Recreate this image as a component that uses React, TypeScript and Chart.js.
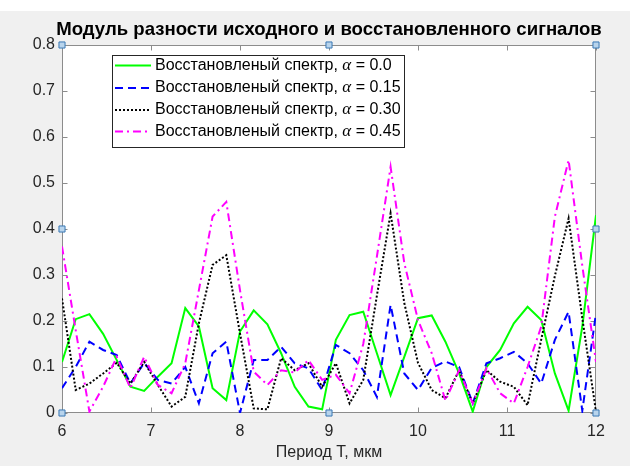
import { useEffect, useRef } from "react";
import { Chart, registerables } from "chart.js";

Chart.register(...registerables);

const periods = [
  6.0, 6.154, 6.308, 6.462, 6.615, 6.769, 6.923, 7.077, 7.231, 7.385,
  7.538, 7.692, 7.846, 8.0, 8.154, 8.308, 8.462, 8.615, 8.769, 8.923,
  9.077, 9.231, 9.385, 9.538, 9.692, 9.846, 10.0, 10.154, 10.308, 10.462,
  10.615, 10.769, 10.923, 11.077, 11.231, 11.385, 11.538, 11.692, 11.846, 12.0,
];

const alphas = ["0.0", "0.15", "0.30", "0.45"];
const seriesLabel = "Восстановленый спектр, α = ";

const diffAlpha000 = [
  0.111, 0.204, 0.215, 0.172, 0.115, 0.057, 0.048, 0.079, 0.108, 0.228,
  0.188, 0.054, 0.028, 0.177, 0.223, 0.193, 0.13, 0.057, 0.014, 0.008,
  0.159, 0.213, 0.22, 0.13, 0.039, 0.122, 0.206, 0.212, 0.155, 0.086,
  0.003, 0.1, 0.137, 0.195, 0.231, 0.202, 0.086, 0.005, 0.188, 0.43,
];
const diffAlpha015 = [
  0.054, 0.1, 0.155, 0.137, 0.126, 0.064, 0.109, 0.072, 0.064, 0.1,
  0.021, 0.13, 0.155, 0.0, 0.115, 0.115, 0.144, 0.108, 0.097, 0.05,
  0.148, 0.13, 0.093, 0.035, 0.235, 0.086, 0.05, 0.098, 0.112, 0.1,
  0.021, 0.108, 0.119, 0.133, 0.108, 0.064, 0.159, 0.22, 0.005, 0.217,
];
const diffAlpha030 = [
  0.249, 0.05, 0.064, 0.086, 0.109, 0.064, 0.111, 0.061, 0.014, 0.035,
  0.195, 0.322, 0.343, 0.173, 0.01, 0.008, 0.119, 0.093, 0.108, 0.057,
  0.108, 0.021, 0.072, 0.255, 0.434, 0.239, 0.109, 0.05, 0.032, 0.093,
  0.021, 0.093, 0.068, 0.057, 0.017, 0.16, 0.298, 0.423, 0.206, 0.003,
];
const diffAlpha045 = [
  0.362, 0.18, 0.003, 0.057, 0.122, 0.054, 0.122, 0.061, 0.043, 0.108,
  0.267, 0.427, 0.459, 0.267, 0.09, 0.061, 0.093, 0.088, 0.115, 0.072,
  0.083, 0.043, 0.15, 0.34, 0.535, 0.326, 0.202, 0.13, 0.027, 0.093,
  0.021, 0.097, 0.043, 0.021, 0.1, 0.188, 0.427, 0.55, 0.32, 0.111,
];

const xTicks = [6, 7, 8, 9, 10, 11, 12];
const yTicks = [0, 0.1, 0.2, 0.3, 0.4, 0.5, 0.6, 0.7, 0.8];

// axes selection handles (figure editor)
const handleX = [6, 9, 12, 6, 12, 6, 9, 12];
const handleY = [0.8, 0.8, 0.8, 0.4, 0.4, 0, 0, 0];

const titleText = "Модуль разности исходного и восстановленного сигналов";
const xTitle = "Период Т, мкм";

const FONT = "'Liberation Sans', Arial, Helvetica, sans-serif";
const AXIS_COLOR = "#8c8c8c";
const TEXT_COLOR = "#262626";

const lineStyles = [
  { color: "#00ff00", dash: [] as number[] },
  { color: "#0000ff", dash: [8, 5] },
  { color: "#000000", dash: [2, 2] },
  { color: "#ff00ff", dash: [8, 4, 2, 4] },
];

const matlabAxes = {
  id: "matlabAxes",
  beforeDraw(chart: any) {
    const { ctx, chartArea: a, width, height } = chart;
    ctx.save();
    ctx.fillStyle = "#f0f0f0";
    ctx.fillRect(0, 0, width, height);
    ctx.fillStyle = "#ffffff";
    ctx.fillRect(a.left, a.top, a.right - a.left, a.bottom - a.top);
    ctx.restore();
  },
  beforeDatasetsDraw(chart: any) {
    const { ctx, chartArea: a, scales } = chart;
    ctx.save();
    ctx.strokeStyle = AXIS_COLOR;
    ctx.lineWidth = 1;
    const l = Math.round(a.left) + 0.5;
    const r = Math.round(a.right) - 0.5;
    const t = Math.round(a.top) + 0.5;
    const b = Math.round(a.bottom) - 0.5;
    ctx.strokeRect(l, t, r - l, b - t);
    ctx.beginPath();
    for (const v of xTicks) {
      const x = Math.round(scales.x.getPixelForValue(v)) + 0.5;
      ctx.moveTo(x, b);
      ctx.lineTo(x, b - 5);
      ctx.moveTo(x, t);
      ctx.lineTo(x, t + 5);
    }
    for (const v of yTicks) {
      const y = Math.round(scales.y.getPixelForValue(v)) + 0.5;
      ctx.moveTo(l, y);
      ctx.lineTo(l + 5, y);
      ctx.moveTo(r, y);
      ctx.lineTo(r - 5, y);
    }
    ctx.stroke();
    ctx.restore();
  },
  afterDraw(chart: any) {
    const { ctx, chartArea: a } = chart;
    ctx.save();
    // title (drawn without width squeezing)
    ctx.fillStyle = "#000000";
    ctx.font = `bold 18.6px ${FONT}`;
    ctx.textAlign = "center";
    ctx.textBaseline = "middle";
    ctx.fillText(titleText, (a.left + a.right) / 2, 18.5);

    // legend
    const bx = 112.5;
    const by = 44.5;
    const bw = 292;
    const bh = 92;
    ctx.fillStyle = "#ffffff";
    ctx.fillRect(bx, by, bw, bh);
    ctx.strokeStyle = "#262626";
    ctx.lineWidth = 1;
    ctx.strokeRect(bx, by, bw, bh);
    const rows = [54.5, 77, 99, 120.5];
    alphas.forEach((al, i) => {
      const y = rows[i];
      const st = lineStyles[i];
      ctx.strokeStyle = st.color;
      ctx.lineWidth = 2;
      ctx.setLineDash(st.dash);
      ctx.beginPath();
      ctx.moveTo(115, y);
      ctx.lineTo(151, y);
      ctx.stroke();
      ctx.setLineDash([]);
      ctx.fillStyle = "#000000";
      ctx.textBaseline = "middle";
      ctx.textAlign = "left";
      const parts = seriesLabel.split("α");
      let x = 155;
      ctx.font = `16px ${FONT}`;
      ctx.fillText(parts[0], x, y);
      x += ctx.measureText(parts[0]).width;
      ctx.font = `italic 17px 'Liberation Serif', 'DejaVu Serif', serif`;
      ctx.fillText("α", x, y);
      x += ctx.measureText("α").width;
      ctx.font = `16px ${FONT}`;
      ctx.fillText(parts[1] + al, x, y);
    });
    ctx.restore();
  },
};

export default function App() {
  const canvasRef = useRef<HTMLCanvasElement | null>(null);

  useEffect(() => {
    document.body.style.margin = "0";
    const canvas = canvasRef.current;
    if (!canvas) return;
    const seriesData = [diffAlpha000, diffAlpha015, diffAlpha030, diffAlpha045];
    const datasets: any[] = seriesData.map((vals, i) => ({
      label: seriesLabel + alphas[i],
      data: periods.map((p, k) => ({ x: p, y: vals[k] })),
      borderColor: lineStyles[i].color,
      backgroundColor: lineStyles[i].color,
      borderDash: lineStyles[i].dash,
      borderWidth: 2,
      pointRadius: 0,
      tension: 0,
      fill: false,
      order: 10 - i,
    }));
    datasets.push({
      label: "handles",
      data: handleX.map((x, k) => ({ x, y: handleY[k] })),
      showLine: false,
      pointStyle: "rect",
      pointRadius: 4.3,
      pointBackgroundColor: "#b8d4ec",
      pointBorderColor: "#3a78b5",
      pointBorderWidth: 1,
      clip: false,
      order: 0,
    });

    const chart = new Chart(canvas, {
      type: "line",
      data: { datasets },
      options: {
        animation: false,
        responsive: false,
        devicePixelRatio: 1,
        layout: { padding: { left: 0, right: 34, top: 34, bottom: 0 } },
        plugins: {
          legend: { display: false },
          tooltip: { enabled: false },
          title: { display: false },
        },
        scales: {
          x: {
            type: "linear",
            min: 6,
            max: 12,
            grid: { display: false, drawTicks: false },
            border: { display: false },
            afterBuildTicks: (s: any) => {
              s.ticks = xTicks.map((v) => ({ value: v }));
            },
            afterFit: (s: any) => {
              s.height = 53;
            },
            ticks: {
              color: TEXT_COLOR,
              font: { family: FONT, size: 16 },
              padding: 9,
              maxRotation: 0,
              autoSkip: false,
              callback: (v: any) => String(v),
            },
            title: {
              display: true,
              text: xTitle,
              color: TEXT_COLOR,
              font: { family: FONT, size: 16 },
              padding: { top: 0, bottom: 3.5 },
            },
          },
          y: {
            type: "linear",
            min: 0,
            max: 0.8,
            grid: { display: false, drawTicks: false },
            border: { display: false },
            afterBuildTicks: (s: any) => {
              s.ticks = yTicks.map((v) => ({ value: v }));
            },
            afterFit: (s: any) => {
              s.width = 62;
            },
            ticks: {
              color: TEXT_COLOR,
              font: { family: FONT, size: 16 },
              padding: 7,
              autoSkip: false,
              callback: (v: any) => String(v),
            },
          },
        },
      },
      plugins: [matlabAxes],
    });
    return () => chart.destroy();
  }, []);

  return (
    <div style={{ position: "relative", width: 630, height: 466, background: "#f0f0f0", overflow: "hidden" }}>
      <div style={{ position: "absolute", left: 0, top: 0, width: 630, height: 11, background: "#ffffff" }} />
      <canvas
        ref={canvasRef}
        width={630}
        height={455}
        style={{ position: "absolute", left: 0, top: 11, width: 630, height: 455, display: "block" }}
      />
    </div>
  );
}
